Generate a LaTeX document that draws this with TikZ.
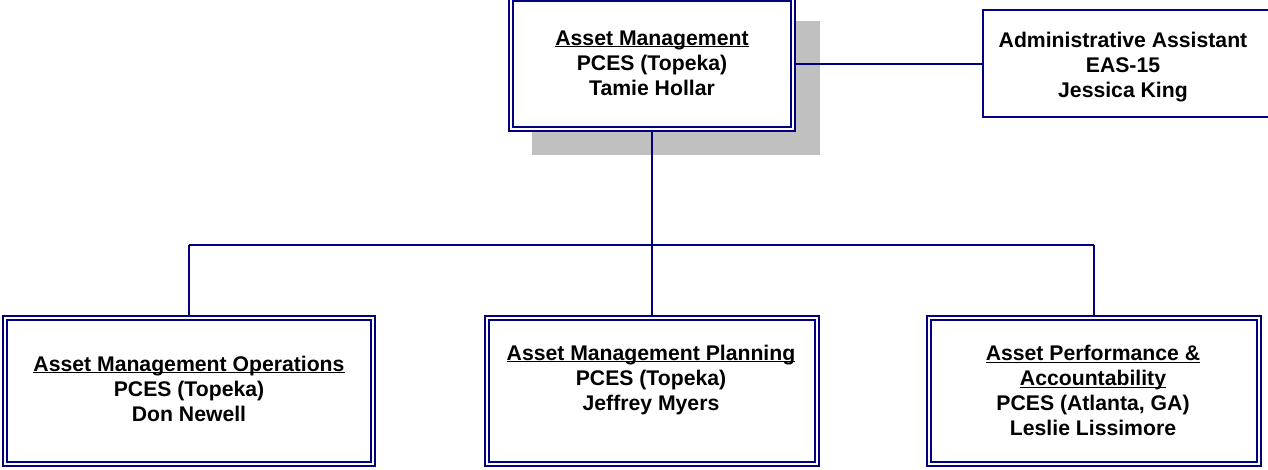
\documentclass[tikz,border=0pt]{standalone}
\usepackage{fontspec}
\setmainfont{Liberation Sans}
\definecolor{navy}{RGB}{0,0,128}
\definecolor{shadowgray}{RGB}{192,192,192}
\newcommand\ulx[1]{\underline{\smash{#1}}\vphantom{A}}
\begin{document}
\begin{tikzpicture}[x=1pt,y=-1pt,
  dbox/.style={draw=navy, line width=1.6pt, double=white, double distance=2.4pt,
    fill=white, inner sep=0pt, minimum width=#1, minimum height=146pt},
  sbox/.style={draw=navy, line width=1.8pt, fill=white, inner sep=0pt},
  txt/.style={font=\bfseries\fontsize{21.2}{25}\selectfont, align=center, inner sep=0pt},
  conn/.style={draw=navy, line width=1.8pt}]
\useasboundingbox (0,0) rectangle (1268,469);
\clip (0,0) rectangle (1268,469);
% shadow
\fill[shadowgray] (532,21) rectangle (820,155);
% boxes
\node[dbox=282pt, minimum height=130pt] (top) at (652,64) {};
\node[sbox, minimum width=297pt, minimum height=107pt] (admin) at (1131.5,63.5) {};
\node[dbox=368pt] (left) at (189,391) {};
\node[dbox=330pt] (mid) at (652,391) {};
\node[dbox=330pt] (right) at (1094,391) {};
% texts
\node[txt] (ttop) at (652,63) {\ulx{Asset Management}\\PCES (Topeka)\\Tamie Hollar};
\node[txt] (tadmin) at (1123,67) {Administrative Assistant\\EAS-15\\Jessica King};
\node[txt] (tleft) at (189,389) {\ulx{Asset Management Operations}\\PCES (Topeka)\\Don Newell};
\node[txt] (tmid) at (651,380) {\ulx{Asset Management Planning}\\PCES (Topeka)\\Jeffrey Myers};
\node[txt] (tright) at (1093,391) {\ulx{Asset Performance \&}\\\ulx{Accountability}\\PCES (Atlanta, GA)\\Leslie Lissimore};
% connectors
\coordinate (bus) at (0,245);
\draw[conn] (top.east) -- (top.east -| admin.west);
\draw[conn] (top.south) -- (mid.north);
\draw[conn] (left.north |- bus) -- (right.north |- bus);
\draw[conn] (left.north |- bus) -- (left.north);
\draw[conn] (right.north |- bus) -- (right.north);
\end{tikzpicture}
\end{document}
